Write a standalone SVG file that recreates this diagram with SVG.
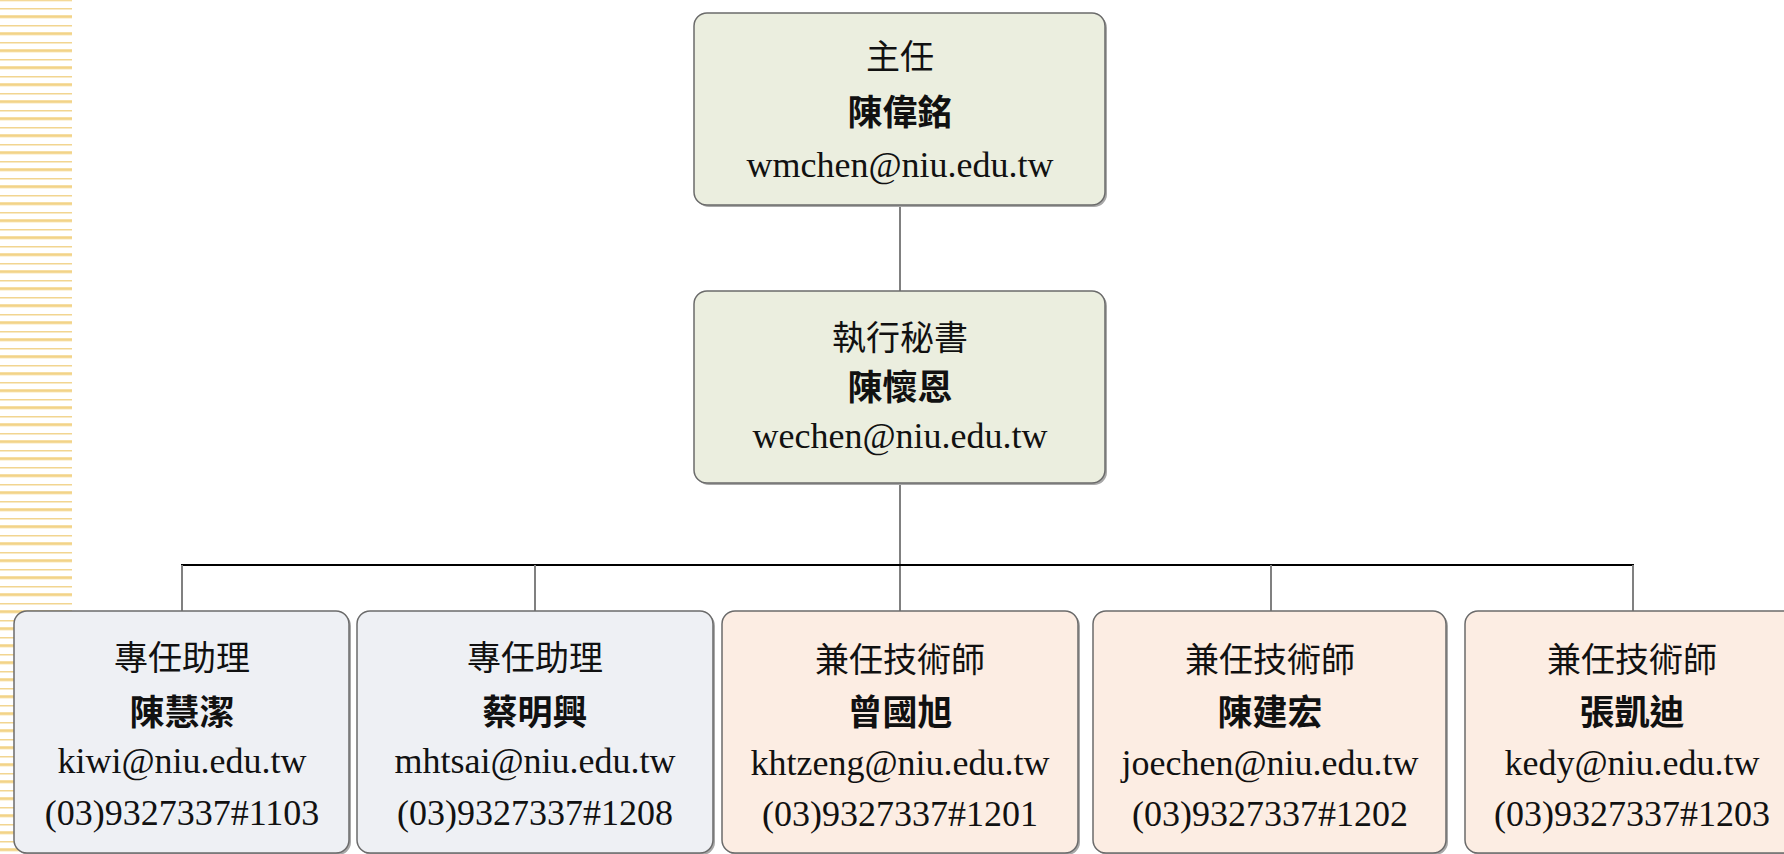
<svg xmlns="http://www.w3.org/2000/svg" width="1784" height="854" viewBox="0 0 1784 854">
<defs>
<pattern id="stripes" patternUnits="userSpaceOnUse" x="0" y="-2" width="72" height="17">
<rect x="0" y="0" width="72" height="3.4" fill="#f7e0a6"/>
<rect x="0" y="0.9" width="72" height="1.6" fill="#f2d388"/>
<rect x="0" y="10" width="72" height="1.5" fill="#f2d590"/>
</pattern>
<style>
.box{stroke:#6b6b6b;stroke-width:1.5}
.shadow{fill:#a8a8a8}
.g{fill:#ebeedf}
.b{fill:#eef0f4}
.p{fill:#fcede3}
.t{font-family:"Noto Sans CJK TC","Noto Sans CJK SC",sans-serif;font-size:34px;fill:#111;text-anchor:middle}
.n{font-family:"Noto Sans CJK TC","Noto Sans CJK SC",sans-serif;font-size:35px;font-weight:bold;fill:#111;text-anchor:middle}
.e{font-family:"Liberation Serif","Times New Roman",serif;font-size:36px;fill:#111;text-anchor:middle}
.v{stroke:#808080;stroke-width:2;fill:none}
.h{stroke:#000;stroke-width:2;fill:none}
</style>
</defs>
<rect x="0" y="0" width="1784" height="854" fill="#ffffff"/>
<rect x="0" y="0" width="72" height="854" fill="url(#stripes)"/>
<g id="connectors">
<line class="v" x1="900" y1="206" x2="900" y2="291"/>
<line class="v" x1="900" y1="483" x2="900" y2="611"/>
<line class="h" x1="181" y1="565" x2="1634" y2="565"/>
<line class="v" x1="182" y1="565" x2="182" y2="611"/>
<line class="v" x1="535" y1="565" x2="535" y2="611"/>
<line class="v" x1="1271" y1="565" x2="1271" y2="611"/>
<line class="v" x1="1633" y1="565" x2="1633" y2="611"/>
</g>
<g id="node-director">
<rect class="shadow" x="696" y="15" width="411" height="192" rx="13"/>
<rect class="box g" x="694" y="13" width="411" height="192" rx="13"/>
<text class="t" x="900" y="69">主任</text>
<text class="n" x="900" y="125">陳偉銘</text>
<text class="e" x="900" y="177">wmchen@niu.edu.tw</text>
</g>
<g id="node-secretary">
<rect class="shadow" x="696" y="293" width="411" height="192" rx="13"/>
<rect class="box g" x="694" y="291" width="411" height="192" rx="13"/>
<text class="t" x="900" y="350">執行秘書</text>
<text class="n" x="900" y="400">陳懷恩</text>
<text class="e" x="900" y="448">wechen@niu.edu.tw</text>
</g>
<g id="node-assistant1">
<rect class="shadow" x="16" y="613" width="335" height="242" rx="13"/>
<rect class="box b" x="14" y="611" width="335" height="242" rx="13"/>
<text class="t" x="182" y="670">專任助理</text>
<text class="n" x="182" y="725">陳慧潔</text>
<text class="e" x="182" y="773">kiwi@niu.edu.tw</text>
<text class="e" x="182" y="825">(03)9327337#1103</text>
</g>
<g id="node-assistant2">
<rect class="shadow" x="359" y="613" width="356" height="242" rx="13"/>
<rect class="box b" x="357" y="611" width="356" height="242" rx="13"/>
<text class="t" x="535" y="670">專任助理</text>
<text class="n" x="535" y="725">蔡明興</text>
<text class="e" x="535" y="773">mhtsai@niu.edu.tw</text>
<text class="e" x="535" y="825">(03)9327337#1208</text>
</g>
<g id="node-tech1">
<rect class="shadow" x="724" y="613" width="356" height="242" rx="13"/>
<rect class="box p" x="722" y="611" width="356" height="242" rx="13"/>
<text class="t" x="900" y="672">兼任技術師</text>
<text class="n" x="900" y="725">曾國旭</text>
<text class="e" x="900" y="775">khtzeng@niu.edu.tw</text>
<text class="e" x="900" y="826">(03)9327337#1201</text>
</g>
<g id="node-tech2">
<rect class="shadow" x="1095" y="613" width="353" height="242" rx="13"/>
<rect class="box p" x="1093" y="611" width="353" height="242" rx="13"/>
<text class="t" x="1270" y="672">兼任技術師</text>
<text class="n" x="1270" y="725">陳建宏</text>
<text class="e" x="1270" y="775">joechen@niu.edu.tw</text>
<text class="e" x="1270" y="826">(03)9327337#1202</text>
</g>
<g id="node-tech3">
<rect class="shadow" x="1467" y="613" width="340" height="242" rx="13"/>
<rect class="box p" x="1465" y="611" width="340" height="242" rx="13"/>
<text class="t" x="1632" y="672">兼任技術師</text>
<text class="n" x="1632" y="725">張凱迪</text>
<text class="e" x="1632" y="775">kedy@niu.edu.tw</text>
<text class="e" x="1632" y="826">(03)9327337#1203</text>
</g>
</svg>
